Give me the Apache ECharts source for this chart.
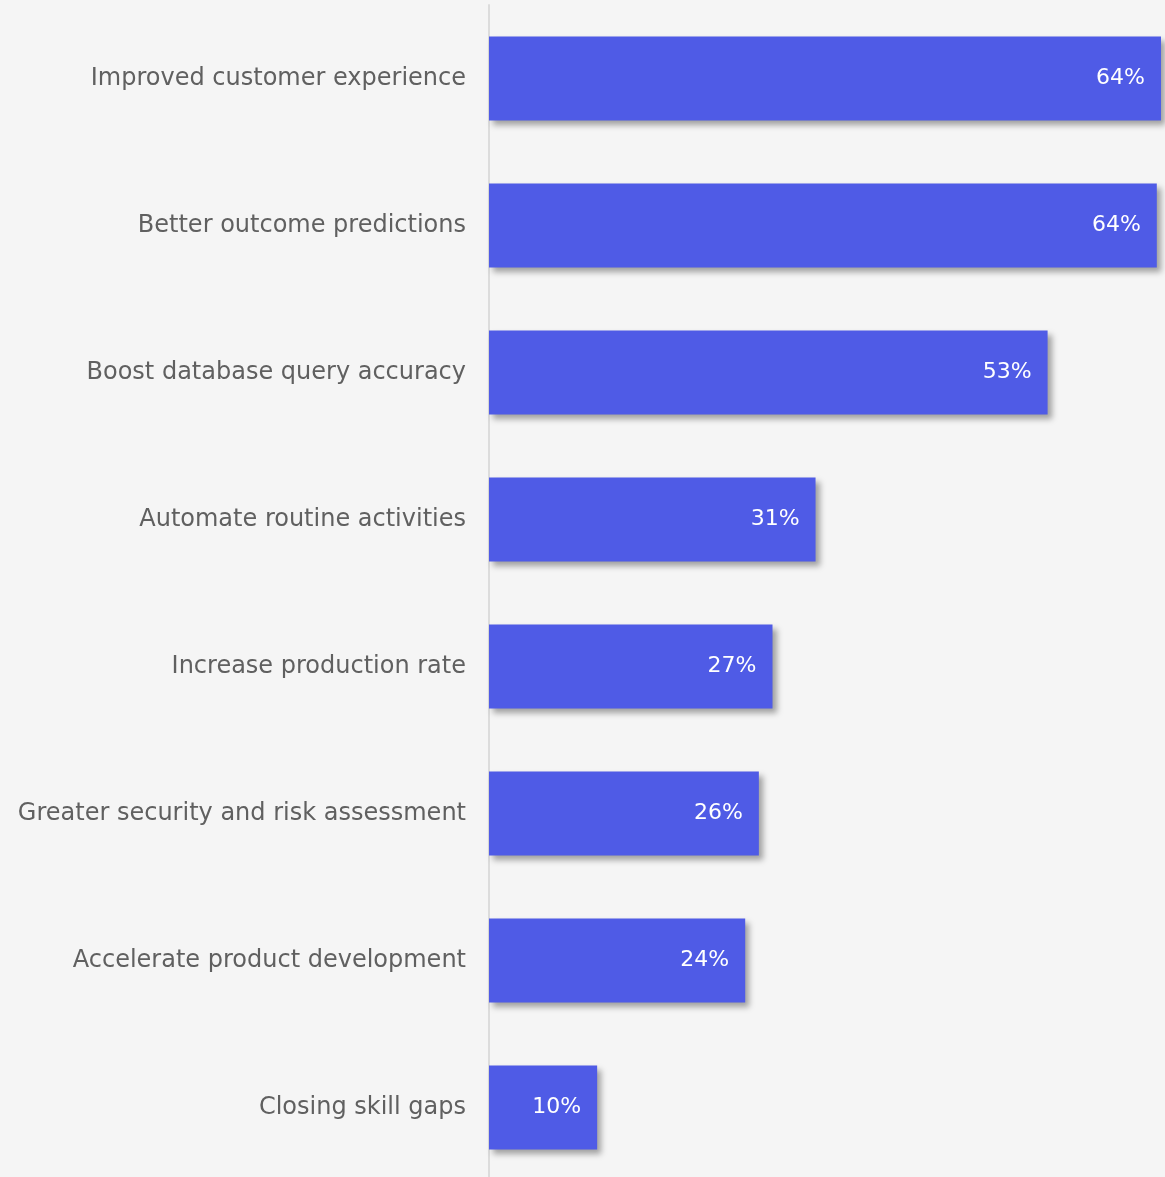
<!DOCTYPE html>
<html>
<head>
<meta charset="utf-8">
<title>Expected benefits</title>
<script src="https://cdn.jsdelivr.net/npm/echarts@6/dist/echarts.min.js"></script>
<style>
  html, body { margin: 0; padding: 0; background: #f5f5f5; overflow: hidden; }
  #chart { width: 1165px; height: 1190px; }
</style>
</head>
<body>
<div id="chart"></div>
<script>
// Categories, listed top to bottom
const categories = [
  'Improved customer experience',
  'Better outcome predictions',
  'Boost database query accuracy',
  'Automate routine activities',
  'Increase production rate',
  'Greater security and risk assessment',
  'Accelerate product development',
  'Closing skill gaps'
];

// Share of respondents (%), same order
const shares = [64.0, 63.6, 53.2, 31.1, 27.0, 25.7, 24.4, 10.3];

const chart = echarts.init(document.getElementById('chart'), null, { renderer: 'canvas' });

const fontFamily = '"DejaVu Sans", "Noto Sans", sans-serif';

chart.setOption({
  backgroundColor: '#f5f5f5',
  animation: false,
  grid: { left: 489, right: 4, top: 5, height: 1176 },
  xAxis: {
    type: 'value',
    min: 0,
    max: 'dataMax',
    show: false
  },
  yAxis: {
    type: 'category',
    data: categories,
    inverse: true,
    axisLine: { show: true, lineStyle: { color: '#dcdcdc', width: 2 } },
    axisTick: { show: false },
    axisLabel: {
      margin: 23,
      color: '#606060',
      fontSize: 24,
      fontFamily: fontFamily
    }
  },
  series: [{
    type: 'bar',
    data: shares,
    barWidth: 84,
    itemStyle: {
      color: '#4f5be6',
      shadowColor: 'rgba(0,0,0,0.35)',
      shadowBlur: 6,
      shadowOffsetX: 4,
      shadowOffsetY: 4
    },
    label: {
      show: true,
      position: 'insideRight',
      distance: 16,
      color: '#ffffff',
      fontSize: 22,
      fontFamily: fontFamily,
      formatter: p => Math.round(p.value) + '%'
    }
  }]
});
</script>
</body>
</html>
